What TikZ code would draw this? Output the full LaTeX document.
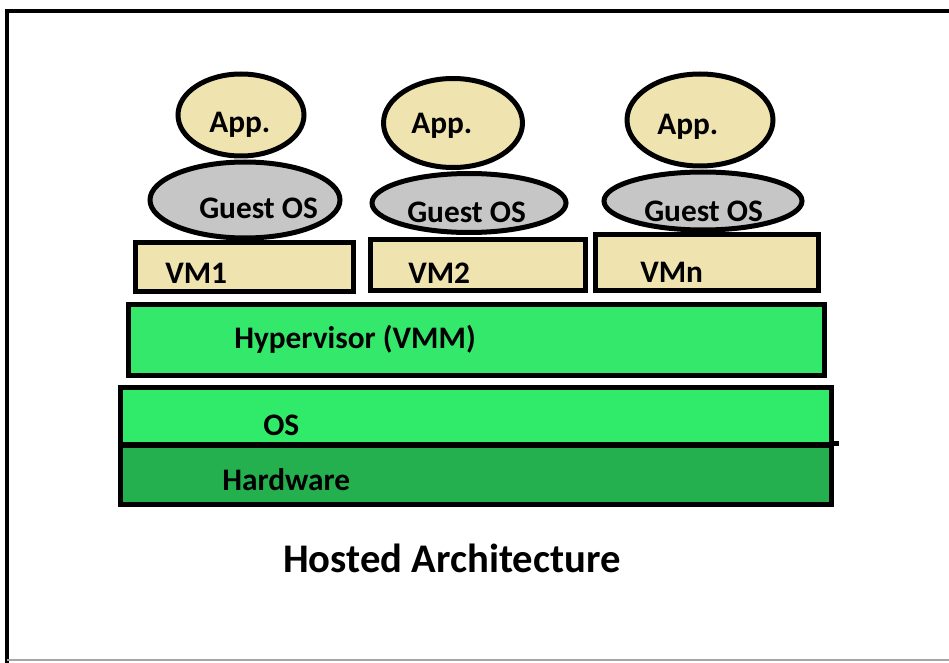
\documentclass[tikz,border=0pt]{standalone}
\usepackage{fontspec}
\setmainfont{Carlito}
\usetikzlibrary{shapes.geometric}
\definecolor{apptan}{HTML}{EFE4B0}
\definecolor{guestgray}{HTML}{C6C6C6}
\definecolor{hypergreen}{HTML}{33E86B}
\definecolor{osgreen}{HTML}{30EA6A}
\definecolor{hwgreen}{HTML}{24B04E}

\begin{document}
\begin{tikzpicture}[x=0.75pt, y=-0.75pt,
	sz/.style 2 args = {minimum width=#1*0.75pt, minimum height=#2*0.75pt},
	blob/.style = {draw, line width=3.75pt, ellipse, inner sep=0pt},
	layer/.style = {draw, line width=3.75pt, rectangle, inner sep=0pt},
	lbl/.style = {anchor=base west, inner sep=0pt, font=\bfseries\fontsize{23.5}{28}\selectfont}]
	\fill[white] (0,0) rectangle (949,663);
	\useasboundingbox (0,0) rectangle (949,663);
	% frame
	\draw[line width=3pt] (7,663) -- (7,11) -- (949,11);
	\draw[black!35, line width=0.8pt] (7,660) -- (949,660);
	% applications
	\node[blob, fill=apptan, sz={126}{82}] (app1) at (241,115){};
	\node[blob, fill=apptan, sz={139}{89}] (app2) at (453,123){};
	\node[blob, fill=apptan, sz={146}{92}] (app3) at (700,120){};
	% guest systems
	\node[blob, fill=guestgray, sz={190}{76}] (guest1) at (245,200){};
	\node[blob, fill=guestgray, sz={194}{59}] (guest2) at (469,203){};
	\node[blob, fill=guestgray, sz={198}{58}] (guest3) at (703,201){};
	% virtual machines
	\node[layer, fill=apptan, sz={218}{49}] (vm1) at (244,266.5){};
	\node[layer, fill=apptan, sz={215}{51}] (vm2) at (477.5,264.5){};
	\node[layer, fill=apptan, sz={223}{56}] (vmn) at (706.5,262){};
	% host layers
	\node[layer, fill=hypergreen, sz={696}{71}] (hyper) at (476,339.5){};
	\node[layer, fill=osgreen, sz={711}{57}] (os) at (475.5,416){};
	\node[layer, fill=hwgreen, sz={711}{59}] (hw) at (475.5,475){};
	\draw[line width=3.75pt] (hw.north east) -- ++(5,0);
	% labels
	\node[lbl] (app1-t) at (209,133){App.};
	\node[lbl] (app2-t) at (411,134){App.};
	\node[lbl] (app3-t) at (657,135){App.};
	\node[lbl] (guest1-t) at (199,218){Guest OS};
	\node[lbl] (guest2-t) at (407,222){Guest OS};
	\node[lbl] (guest3-t) at (644,221){Guest OS};
	\node[lbl] (vm1-t) at (165,283){VM1};
	\node[lbl] (vm2-t) at (408,283){VM2};
	\node[lbl] (vmn-t) at (640,282){VMn};
	\node[lbl] (hyper-t) at (234,348){Hypervisor (VMM)};
	\node[lbl] (os-t) at (263,435){OS};
	\node[lbl] (hw-t) at (222,490){Hardware};
	\node[lbl, font=\bfseries\fontsize{30.5}{36}\selectfont] (title) at (283,572){Hosted Architecture};
\end{tikzpicture}
\end{document}
